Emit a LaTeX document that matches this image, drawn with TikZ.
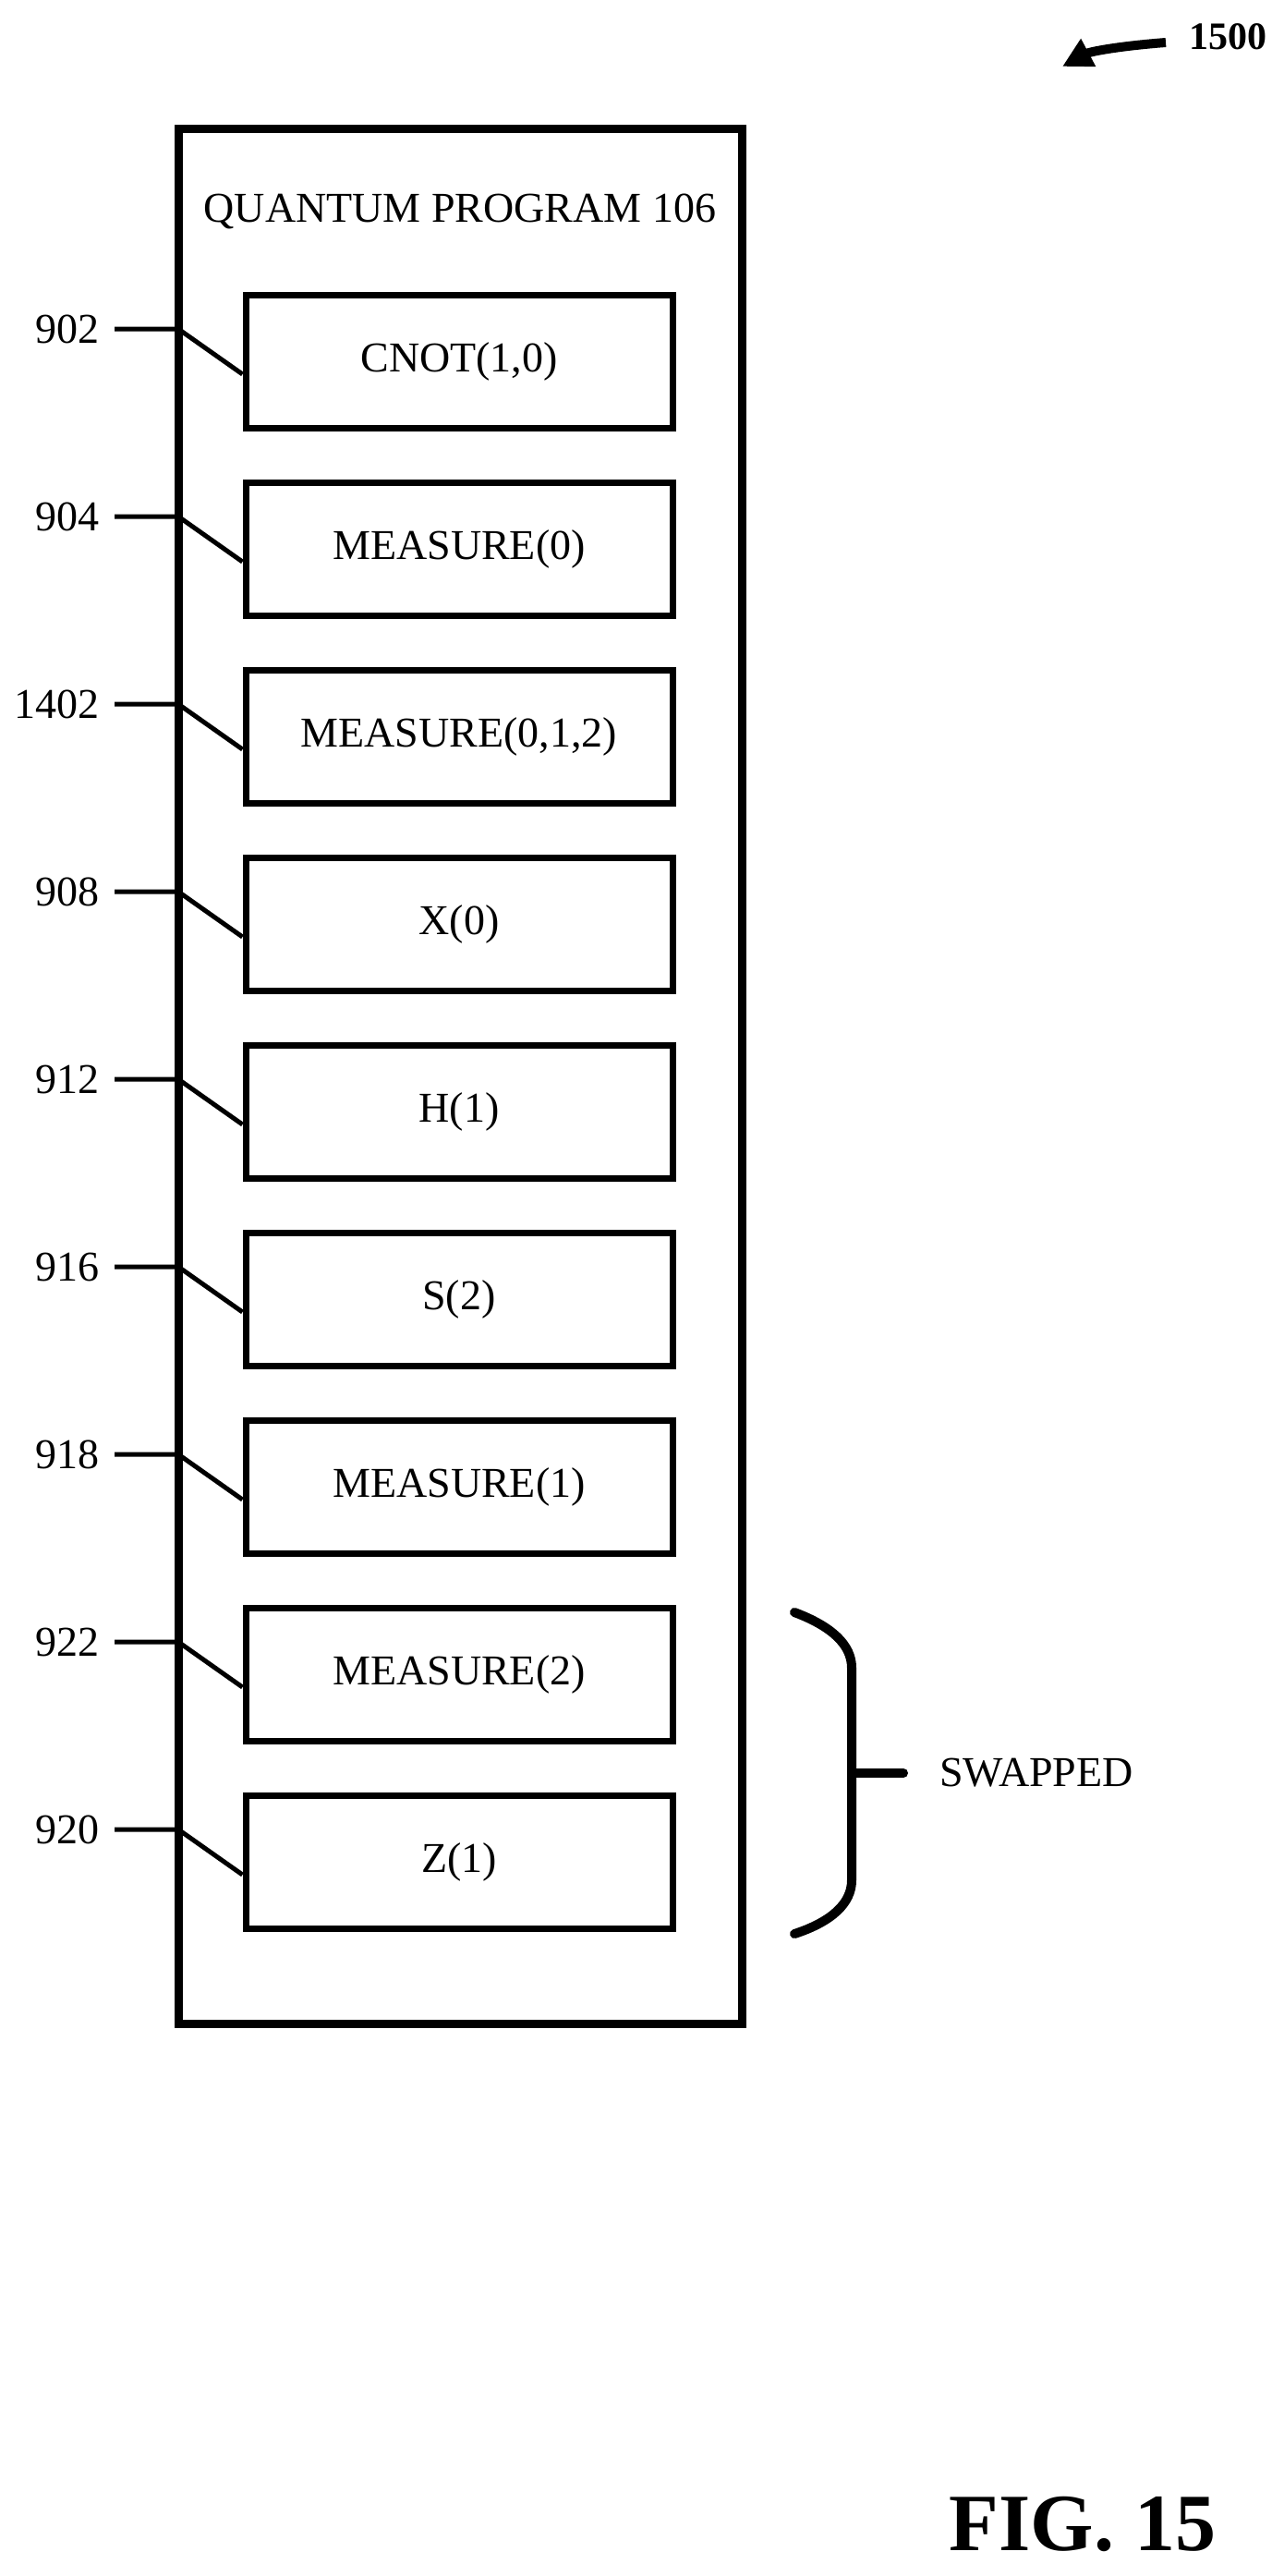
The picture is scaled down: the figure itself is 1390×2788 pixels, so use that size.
\documentclass[tikz,border=0pt]{standalone}
\usepackage{fontspec}
\setmainfont{Liberation Serif}
\usetikzlibrary{arrows.meta}
\begin{document}
\begin{tikzpicture}[x=0.5pt,y=-0.5pt,
  txt/.style={font=\fontsize{23}{26}\selectfont},
  op/.style={draw,line width=3.5pt,minimum width=231pt,minimum height=72pt,txt,inner sep=0pt},
  lbl/.style={anchor=east,txt,inner sep=0pt},
  ln/.style={line width=2.5pt}]
\useasboundingbox (0,0) rectangle (1390,2788);
\draw[line width=4.5pt] (193,140) rectangle (803,2190);
\node[txt] (title) at (498,229) {QUANTUM PROGRAM 106};
\foreach \i/\t/\n in {0/CNOT(1{,}0)/902,1/MEASURE(0)/904,2/MEASURE(0{,}1{,}2)/1402,3/X(0)/908,4/H(1)/912,5/S(2)/916,6/MEASURE(1)/918,7/MEASURE(2)/922,8/Z(1)/920}{
  \node[op] (b\i) at (497,{391+\i*203}) {\t};
  \node[lbl] (l\i) at (108,{356+\i*203}) {\n};
  \coordinate (k\i) at (193,{356+\i*203});
  \path (l\i.east) ++(8pt,0) coordinate (s\i);
  \draw[ln] (s\i) -- (k\i) -- ([yshift=-7pt]b\i.west);
}
\draw[line width=5pt,line cap=round] (860,1745) .. controls (900,1760) and (922,1780) .. (922,1805) -- (922,2035) .. controls (922,2060) and (900,2080) .. (860,2093);
\coordinate (bm) at (922,1919);
\coordinate (bt) at (978,1919);
\draw[line width=5pt,line cap=round] (bm) -- (bt);
\node[anchor=west,txt] (sw) at (1010,1919) {SWAPPED};
\node[anchor=west,font=\bfseries\fontsize{21}{24}\selectfont] (n1500) at (1280,40) {1500};
\coordinate (a1) at (1262,46);
\coordinate (a2) at (1150,72);
\draw[line width=5pt,-{Triangle[length=16pt,width=16pt]}] (a1) .. controls (1210,50) and (1180,56) .. (a2);
\node[font=\bfseries\fontsize{44}{48}\selectfont] (fig) at (1172,2732) {FIG. 15};
\end{tikzpicture}
\end{document}
